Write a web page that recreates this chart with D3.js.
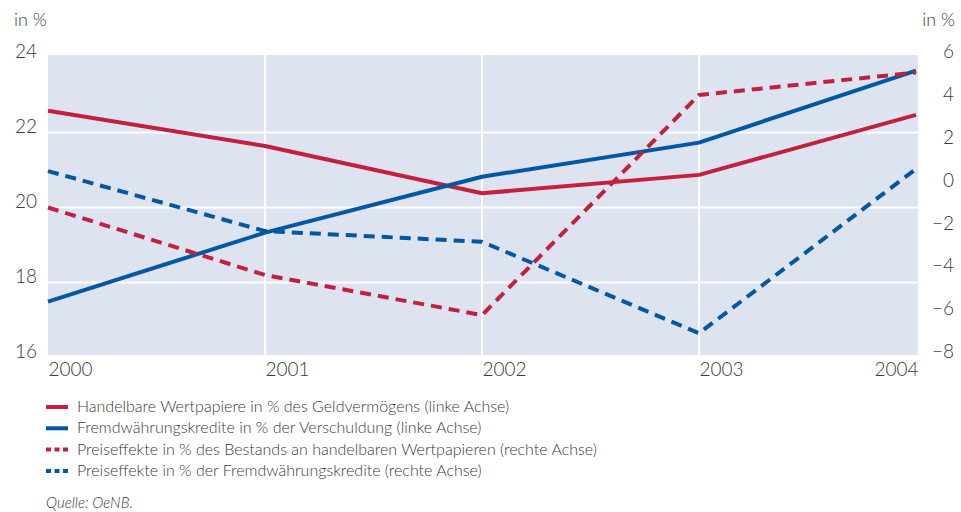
<!DOCTYPE html>
<html><head><meta charset="utf-8">
<script src="https://cdn.jsdelivr.net/npm/d3@7"></script>
<style>body{margin:0;background:#fff}svg{display:block;font-family:Lato,"Open Sans",sans-serif;font-weight:300}</style>
</head><body><svg id="c" width="961" height="512"></svg>
<script>
const years = [2000, 2001, 2002, 2003, 2004];
const wertpapiere = [22.58, 21.64, 20.38, 20.87, 22.47];
const fwKredite = [17.49, 19.33, 20.82, 21.73, 23.65];
const preisWertpapiere = [-1.0, -4.15, -6.02, 4.25, 5.3];
const preisFwKredite = [0.7, -2.1, -2.6, -6.87, 0.8];
const leftTicks = [16, 18, 20, 22, 24];
const rightTicks = [-8, -6, -4, -2, 0, 2, 4, 6];
const legendLabels = [
  "Handelbare Wertpapiere in % des Geldvermögens (linke Achse)",
  "Fremdwährungskredite in % der Verschuldung (linke Achse)",
  "Preiseffekte in % des Bestands an handelbaren Wertpapieren (rechte Achse)",
  "Preiseffekte in % der Fremdwährungskredite (rechte Achse)"
];
const RED = "#c3203f", BLUE = "#0057a3", TXT = "#3a3a3a";

const svg = d3.select("#c");
const x = d3.scaleLinear().domain([2000, 2004]).range([48, 916]);
const yL = d3.scaleLinear().domain([16, 24]).range([357.5, 57.5]);
const yR = d3.scaleLinear().domain([-8, 6]).range([357.5, 57.5]);

svg.append("rect").attr("x", 48).attr("y", 55).attr("width", 870).attr("height", 300).attr("fill", "#dee3f0");

// grid
svg.append("g").selectAll("line").data(leftTicks.filter(d => d > 16 && d < 24)).join("line")
  .attr("x1", 48).attr("x2", 918).attr("y1", d => yL(d)).attr("y2", d => yL(d))
  .attr("stroke", "#fff").attr("stroke-width", 2);
svg.append("g").selectAll("line").data(years.slice(1, 4)).join("line")
  .attr("x1", d => x(d)).attr("x2", d => x(d)).attr("y1", 55).attr("y2", 355)
  .attr("stroke", "#fff").attr("stroke-width", 2);

// axes
const axL = d3.axisLeft(yL).tickValues(leftTicks).tickSize(0).tickPadding(0);
const gL = svg.append("g").attr("transform", "translate(37,-6)").call(axL);
gL.select(".domain").remove();
gL.selectAll("text").attr("font-size", 19).attr("fill", TXT).attr("font-family", "Lato").attr("font-weight", 300);

const axR = d3.axisRight(yR).tickValues(rightTicks).tickSize(0).tickPadding(0)
  .tickFormat(d => d < 0 ? "\u2212" + Math.abs(d) : String(d));
const gR = svg.append("g").attr("transform", "translate(954,-6)").call(axR);
gR.select(".domain").remove();
gR.selectAll("text").attr("font-size", 19).attr("fill", TXT).attr("text-anchor", "end").attr("font-family", "Lato").attr("font-weight", 300);

const axB = d3.axisBottom(x).tickValues(years).tickSize(0).tickPadding(0).tickFormat(d3.format("d"));
const gB = svg.append("g").attr("transform", "translate(0,362)").call(axB);
gB.select(".domain").remove();
gB.selectAll("text").attr("font-size", 19).attr("fill", TXT).attr("font-family", "Lato").attr("font-weight", 300)
  .attr("text-anchor", (d, i) => i === years.length - 1 ? "end" : "start")
  .attr("dx", (d, i) => i === years.length - 1 ? 2 : 0);

svg.append("text").attr("x", 14).attr("y", 26).attr("font-size", 18).attr("fill", TXT).text("in %");
svg.append("text").attr("x", 955).attr("y", 26).attr("font-size", 18).attr("fill", TXT).attr("text-anchor", "end").text("in %");

// lines
const series = [
  {v: wertpapiere, y: yL, c: RED, dash: null},
  {v: fwKredite, y: yL, c: BLUE, dash: null},
  {v: preisWertpapiere, y: yR, c: RED, dash: "11,7"},
  {v: preisFwKredite, y: yR, c: BLUE, dash: "11,7"}
];
series.forEach(s => {
  const line = d3.line().x((d, i) => x(years[i])).y(d => s.y(d));
  svg.append("path").attr("d", line(s.v)).attr("fill", "none").attr("stroke", s.c)
    .attr("stroke-width", 4).attr("stroke-linejoin", "round")
    .attr("stroke-dasharray", s.dash);
});

// legend
const lg = svg.append("g");
legendLabels.forEach((t, i) => {
  const yy = 407 + i * 21.3;
  const s = series[i];
  lg.append("line").attr("x1", 46).attr("x2", 68).attr("y1", yy).attr("y2", yy)
    .attr("stroke", s.c).attr("stroke-width", 4)
    .attr("stroke-dasharray", s.dash ? "5,3.5" : null);
  lg.append("text").attr("x", 77).attr("y", yy + 5).attr("font-size", 16).attr("fill", TXT).text(t);
});
svg.append("text").attr("x", 46).attr("y", 508).attr("font-size", 15).attr("font-style", "italic")
  .attr("fill", TXT).text("Quelle: OeNB.");
</script></body></html>
